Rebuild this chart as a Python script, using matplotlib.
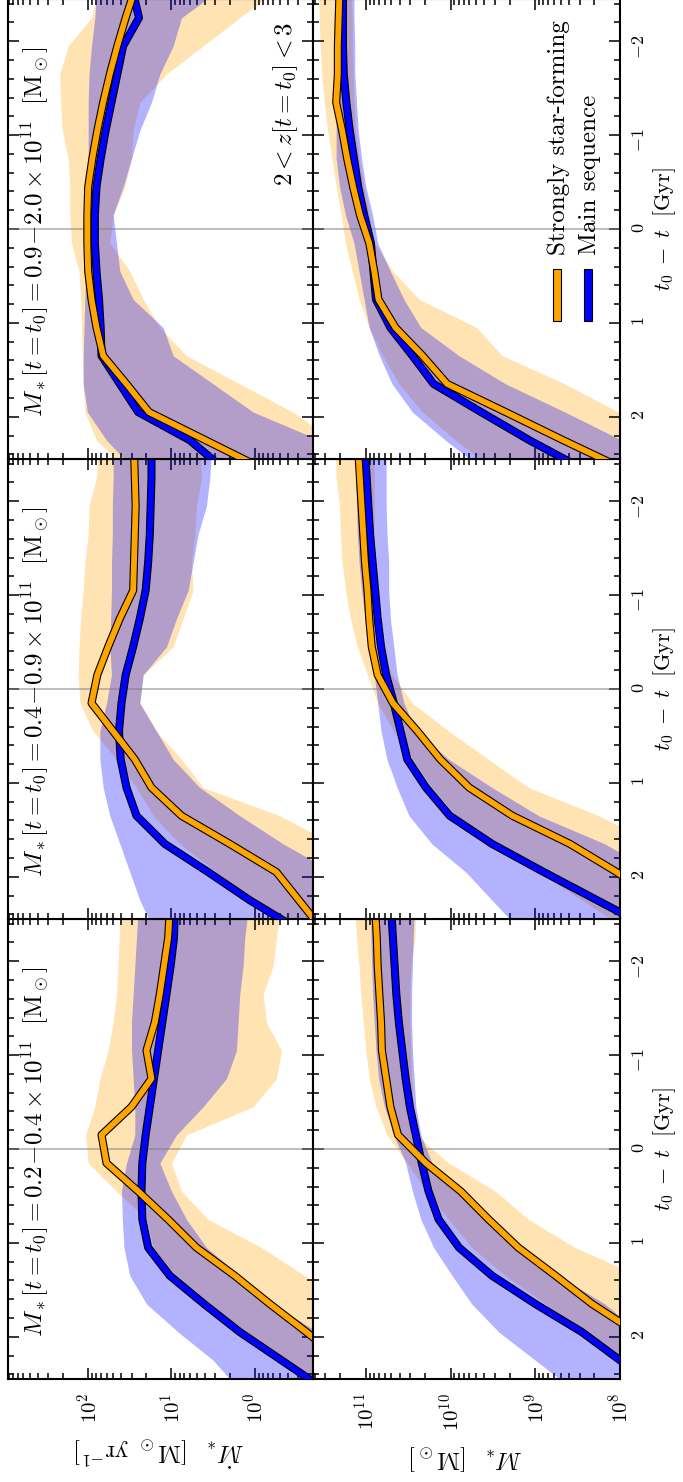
import numpy as np
import matplotlib
matplotlib.use('Agg')
import matplotlib.pyplot as plt
import matplotlib.patheffects as pe
from matplotlib.patches import Rectangle
from matplotlib.ticker import MultipleLocator, LogLocator, NullFormatter

plt.rcParams['font.family'] = 'serif'
plt.rcParams['font.serif'] = ['cmr10']
plt.rcParams['mathtext.fontset'] = 'cm'
plt.rcParams['axes.formatter.use_mathtext'] = True

# look-back time bins (t0 - t) [Gyr]
t_gyr = [-2.55, -2.25, -1.95, -1.65, -1.35, -1.05, -0.75, -0.45, -0.15,
         0.15, 0.45, 0.75, 1.05, 1.35, 1.65, 1.95, 2.25, 2.55]

mass_bins = ['0.2\\!-\\!0.4', '0.4\\!-\\!0.9', '0.9\\!-\\!2.0']

# log10 SFR [Msun/yr]; sb = strongly star-forming, ms = main sequence
# med = median, lo/hi = lower/upper envelope
sfr_sb_med_1 = [1.02, 1.04, 1.09, 1.14, 1.20, 1.30, 1.24, 1.48, 1.84, 1.78, 1.40, 1.04, 0.70, 0.24, -0.18, -0.62, -1.04, -1.48]
sfr_sb_lo_1 = [-0.30, -0.26, -0.22, -0.10, -0.14, -0.32, -0.26, 0.02, 0.82, 1.00, 0.88, 0.56, -0.08, -0.60, -1.00, -1.40, -1.80, -2.20]
sfr_sb_hi_1 = [1.62, 1.63, 1.64, 1.66, 1.70, 1.76, 1.86, 1.92, 2.03, 2.00, 1.66, 1.30, 1.22, 0.98, 0.56, 0.14, -0.32, -0.80]
sfr_ms_med_1 = [0.96, 0.97, 1.01, 1.06, 1.11, 1.16, 1.21, 1.26, 1.31, 1.35, 1.36, 1.35, 1.28, 1.02, 0.61, 0.18, -0.32, -0.82]
sfr_ms_lo_1 = [0.08, 0.12, 0.14, 0.18, 0.20, 0.22, 0.34, 0.62, 0.94, 1.14, 1.00, 0.82, 0.58, 0.18, -0.22, -0.75, -1.20, -1.60]
sfr_ms_hi_1 = [1.40, 1.42, 1.44, 1.46, 1.48, 1.48, 1.46, 1.44, 1.44, 1.54, 1.60, 1.59, 1.57, 1.50, 1.30, 0.92, 0.50, 0.20]

sfr_sb_med_2 = [1.45, 1.44, 1.43, 1.44, 1.45, 1.46, 1.62, 1.76, 1.89, 1.96, 1.70, 1.44, 1.24, 0.88, 0.30, -0.26, -0.53, -0.80]
sfr_sb_lo_2 = [0.66, 0.64, 0.70, 0.72, 0.76, 0.74, 0.86, 0.98, 1.34, 1.38, 1.18, 0.88, 0.62, -0.30, -0.94, -1.34, -1.74, -2.14]
sfr_sb_hi_2 = [1.88, 1.90, 1.99, 2.00, 2.04, 2.06, 2.09, 2.11, 2.12, 2.10, 1.94, 1.66, 1.42, 1.22, 0.90, 0.46, 0.02, -0.42]
sfr_ms_med_2 = [1.24, 1.24, 1.25, 1.26, 1.28, 1.31, 1.38, 1.46, 1.55, 1.60, 1.63, 1.61, 1.54, 1.42, 1.08, 0.56, 0.06, -0.50]
sfr_ms_lo_2 = [0.52, 0.54, 0.58, 0.68, 0.74, 0.80, 0.94, 1.06, 1.34, 1.38, 1.18, 0.98, 0.66, 0.18, -0.34, -0.94, -1.26, -1.74]
sfr_ms_hi_2 = [1.70, 1.70, 1.71, 1.71, 1.72, 1.72, 1.73, 1.74, 1.72, 1.78, 1.86, 1.86, 1.82, 1.74, 1.62, 1.50, 1.38, 1.22]

sfr_sb_med_3 = [1.44, 1.55, 1.65, 1.74, 1.82, 1.89, 1.95, 2.00, 2.01, 2.01, 2.00, 1.96, 1.90, 1.82, 1.54, 1.27, 0.59, -0.09]
sfr_sb_lo_3 = [-0.26, 0.18, 0.62, 1.06, 1.38, 1.46, 1.48, 1.56, 1.70, 1.74, 1.50, 1.34, 1.14, 0.82, 0.18, -0.46, -0.94, -1.54]
sfr_sb_hi_3 = [1.88, 1.96, 2.24, 2.34, 2.33, 2.31, 2.24, 2.22, 2.22, 2.20, 2.11, 2.09, 2.08, 2.07, 2.06, 2.04, 1.90, 1.54]
sfr_ms_med_3 = [1.47, 1.39, 1.58, 1.65, 1.72, 1.79, 1.85, 1.90, 1.92, 1.92, 1.90, 1.87, 1.85, 1.84, 1.62, 1.40, 0.78, 0.38]
sfr_ms_lo_3 = [0.42, 0.88, 0.98, 1.14, 1.24, 1.38, 1.48, 1.58, 1.70, 1.66, 1.62, 1.46, 1.10, 0.98, 0.50, 0.02, -0.78, -1.34]
sfr_ms_hi_3 = [1.90, 1.92, 1.96, 1.99, 2.00, 2.00, 2.00, 2.00, 2.00, 2.01, 2.03, 2.04, 2.05, 2.06, 2.06, 2.01, 1.78, 1.46]

# log10 stellar mass [Msun]
mst_sb_med_1 = [10.89, 10.87, 10.86, 10.84, 10.82, 10.81, 10.76, 10.71, 10.62, 10.29, 9.88, 9.55, 9.20, 8.76, 8.33, 7.82, 7.39, 6.96]
mst_sb_lo_1 = [10.41, 10.42, 10.47, 10.48, 10.48, 10.47, 10.46, 10.44, 10.41, 10.02, 9.47, 9.08, 8.53, 7.78, 7.47, 7.08, 6.61, 6.22]
mst_sb_hi_1 = [11.13, 11.11, 11.08, 11.06, 11.03, 11.00, 10.96, 10.88, 10.75, 10.51, 10.29, 10.02, 9.75, 9.35, 8.88, 8.45, 7.98, 7.55]
mst_ms_med_1 = [10.70, 10.68, 10.66, 10.64, 10.61, 10.57, 10.53, 10.48, 10.41, 10.34, 10.26, 10.14, 9.90, 9.51, 9.00, 8.45, 8.00, 7.51]
mst_ms_lo_1 = [10.43, 10.44, 10.45, 10.46, 10.46, 10.45, 10.43, 10.41, 10.35, 10.22, 9.94, 9.51, 9.16, 8.73, 8.18, 7.78, 7.31, 6.88]
mst_ms_hi_1 = [10.94, 10.94, 10.93, 10.92, 10.90, 10.88, 10.85, 10.78, 10.67, 10.53, 10.45, 10.35, 10.20, 9.98, 9.75, 9.43, 9.00, 8.57]

mst_sb_med_2 = [11.09, 11.07, 11.05, 11.03, 11.01, 10.98, 10.96, 10.93, 10.86, 10.68, 10.39, 10.12, 9.78, 9.27, 8.59, 8.04, 7.56, 7.04]
mst_sb_lo_2 = [10.90, 10.90, 10.90, 10.90, 10.89, 10.88, 10.86, 10.82, 10.69, 10.45, 10.02, 9.55, 9.08, 8.25, 7.59, 7.20, 6.80, 6.41]
mst_sb_hi_2 = [11.36, 11.35, 11.31, 11.30, 11.28, 11.24, 11.18, 11.10, 10.98, 10.86, 10.67, 10.45, 10.22, 9.94, 9.51, 8.96, 8.45, 7.94]
mst_ms_med_2 = [11.01, 10.99, 10.97, 10.95, 10.92, 10.89, 10.86, 10.82, 10.76, 10.67, 10.59, 10.51, 10.29, 10.01, 9.51, 8.90, 8.27, 7.64]
mst_ms_lo_2 = [10.76, 10.76, 10.76, 10.75, 10.73, 10.73, 10.71, 10.67, 10.63, 10.55, 10.41, 10.02, 9.51, 8.96, 8.18, 7.59, 7.00, 6.41]
mst_ms_hi_2 = [11.12, 11.12, 11.11, 11.10, 11.08, 11.05, 11.01, 10.96, 10.90, 10.86, 10.82, 10.75, 10.63, 10.49, 10.22, 9.82, 9.51, 9.20]

mst_sb_med_3 = [11.31, 11.32, 11.33, 11.33, 11.35, 11.28, 11.22, 11.15, 11.07, 10.96, 10.90, 10.85, 10.65, 10.33, 10.04, 9.35, 8.67, 7.97]
mst_sb_lo_3 = [11.18, 11.16, 11.16, 11.15, 11.14, 11.12, 11.08, 11.02, 10.96, 10.90, 10.68, 10.37, 9.69, 9.39, 8.65, 8.02, 7.47, 6.92]
mst_sb_hi_3 = [11.56, 11.55, 11.54, 11.52, 11.49, 11.45, 11.40, 11.35, 11.29, 11.24, 11.16, 11.08, 10.96, 10.80, 10.61, 10.33, 9.94, 9.51]
mst_ms_med_3 = [11.27, 11.27, 11.27, 11.26, 11.23, 11.19, 11.14, 11.09, 11.02, 10.94, 10.91, 10.88, 10.71, 10.45, 10.20, 9.64, 9.07, 8.45]
mst_ms_lo_3 = [11.14, 11.14, 11.13, 11.13, 11.11, 11.09, 11.05, 11.00, 10.92, 10.86, 10.71, 10.55, 10.35, 9.90, 9.35, 8.65, 7.98, 7.39]
mst_ms_hi_3 = [11.33, 11.33, 11.34, 11.35, 11.35, 11.35, 11.35, 11.31, 11.24, 11.14, 11.08, 11.02, 10.96, 10.84, 10.69, 10.45, 10.06, 9.63]

sfr_panels = [
    (sfr_sb_med_1, sfr_sb_lo_1, sfr_sb_hi_1, sfr_ms_med_1, sfr_ms_lo_1, sfr_ms_hi_1),
    (sfr_sb_med_2, sfr_sb_lo_2, sfr_sb_hi_2, sfr_ms_med_2, sfr_ms_lo_2, sfr_ms_hi_2),
    (sfr_sb_med_3, sfr_sb_lo_3, sfr_sb_hi_3, sfr_ms_med_3, sfr_ms_lo_3, sfr_ms_hi_3),
]
mst_panels = [
    (mst_sb_med_1, mst_sb_lo_1, mst_sb_hi_1, mst_ms_med_1, mst_ms_lo_1, mst_ms_hi_1),
    (mst_sb_med_2, mst_sb_lo_2, mst_sb_hi_2, mst_ms_med_2, mst_ms_lo_2, mst_ms_hi_2),
    (mst_sb_med_3, mst_sb_lo_3, mst_sb_hi_3, mst_ms_med_3, mst_ms_lo_3, mst_ms_hi_3),
]

W, H = 683, 1482
fig = plt.figure(figsize=(W / 100, H / 100), dpi=100)

outline = [pe.Stroke(linewidth=5.8, foreground='k'), pe.Normal()]


def draw(ax, data):
    sb_med, sb_lo, sb_hi, ms_med, ms_lo, ms_hi = [10 ** np.array(d) for d in data]
    ax.fill_betweenx(t_gyr, sb_lo, sb_hi, color='orange', alpha=0.3, lw=0, zorder=1)
    ax.fill_betweenx(t_gyr, ms_lo, ms_hi, color='blue', alpha=0.3, lw=0, zorder=2)
    ax.axhline(0, color='gray', lw=1.2, alpha=0.6, zorder=2.5)
    ax.plot(ms_med, t_gyr, color='blue', lw=4.2, zorder=3, path_effects=outline)
    ax.plot(sb_med, t_gyr, color='orange', lw=4.2, zorder=4, path_effects=outline)


def style(ax):
    ax.set_xscale('log')
    ax.set_ylim(2.45, -2.45)
    ax.yaxis.set_major_locator(MultipleLocator(1))
    ax.yaxis.set_minor_locator(MultipleLocator(0.2))
    ax.xaxis.set_major_locator(LogLocator(base=10, numticks=12))
    ax.xaxis.set_minor_locator(LogLocator(base=10, subs=np.arange(2, 10), numticks=12))
    ax.xaxis.set_minor_formatter(NullFormatter())
    ax.tick_params(which='both', direction='in', top=True, bottom=True,
                   left=True, right=True, labelleft=False, labelbottom=False)
    ax.tick_params(which='major', length=8, width=1.1)
    ax.tick_params(which='minor', length=4.3, width=1.1)
    for s in ax.spines.values():
        s.set_linewidth(1.5)


panel_h = 460
for i in range(3):
    top = 919 - panel_h * i
    bottom = (H - top - panel_h) / H
    ax_sfr = fig.add_axes([7.5 / W, bottom, 305.5 / W, panel_h / H])
    ax_m = fig.add_axes([313 / W, bottom, 307 / W, panel_h / H])

    for ax, data in ((ax_sfr, sfr_panels[i]), (ax_m, mst_panels[i])):
        style(ax)
        draw(ax, data)

    ax_sfr.set_xlim(9.3e2, 0.2)
    ax_m.set_xlim(4.2e11, 1e8)

    ax_sfr.text(0.039, 0.092,
                r'$M_*[t=t_0]=%s\times10^{11}\ \ [\mathrm{M}_\odot]$' % mass_bins[i],
                rotation=90, ha='left', va='bottom', fontsize=18,
                transform=ax_sfr.transAxes)

    ax_m.tick_params(axis='y', labelright=True, labelrotation=90, pad=8, labelsize=13)
    ax_m.yaxis.set_label_position('right')
    ax_m.set_ylabel(r'$t_0\;-\;t\ \ [\mathrm{Gyr}]$', fontsize=16, labelpad=3)

    if i == 0:
        for ax in (ax_sfr, ax_m):
            ax.tick_params(axis='x', labelbottom=True, labelrotation=90, pad=10, labelsize=15)
        ax_sfr.set_xlabel(r'$\dot{M}_*\ \ [\mathrm{M}_\odot\ \mathrm{yr}^{-1}]$',
                          fontsize=18, rotation=180, labelpad=8)
        ax_m.set_xlabel(r'$M_*\ \ [\mathrm{M}_\odot]$', fontsize=18, rotation=180, labelpad=8)

    if i == 2:
        ax_sfr.text(0.957, 0.95, r'$2<z[t=t_0]<3$', rotation=90, ha='right',
                    va='top', fontsize=18, transform=ax_sfr.transAxes)
        # legend drawn by hand so that it reads along the rotated axes
        for x0, color, label in ((0.782, 'orange', 'Strongly star-forming'),
                                 (0.883, 'blue', 'Main sequence')):
            ax_m.add_patch(Rectangle((x0, 0.300), 0.026, 0.113, transform=ax_m.transAxes,
                                     facecolor=color, edgecolor='k', lw=0.8, zorder=6))
            ax_m.text(x0 + 0.018, 0.4435, label, rotation=90, ha='center', va='bottom',
                      fontsize=18, transform=ax_m.transAxes, zorder=6)

fig.savefig('out.png', dpi=100)
